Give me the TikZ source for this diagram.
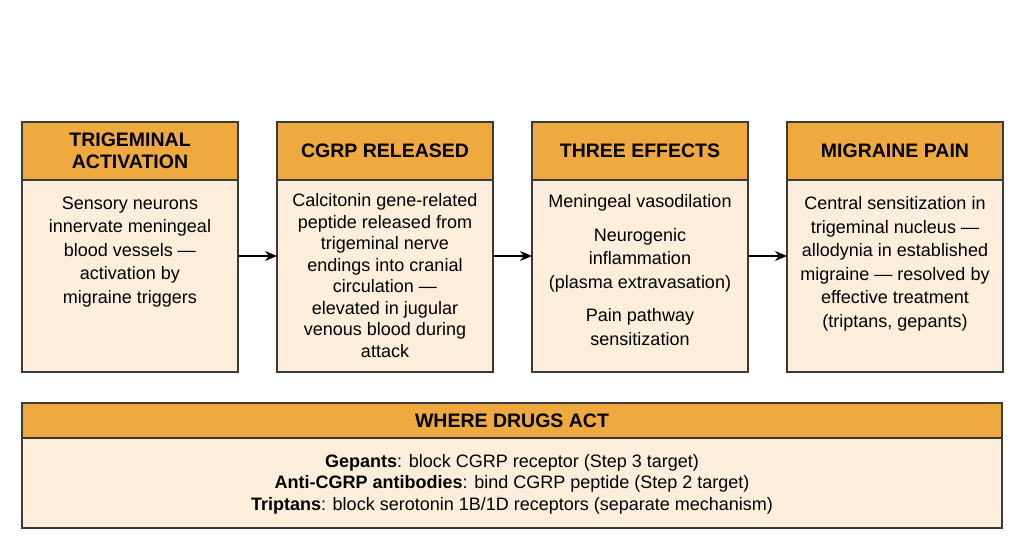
\documentclass[tikz,border=0pt]{standalone}
\usepackage{fontspec}
\setmainfont{Liberation Sans}
\usetikzlibrary{arrows.meta}
\definecolor{hdr}{HTML}{EEA93F}
\definecolor{bdy}{HTML}{FCEEDB}
\definecolor{brd}{HTML}{3A3A3A}
\begin{document}
\begin{tikzpicture}[x=1pt,y=-1pt,
  hd/.style={draw=brd,line width=1.2pt,fill=hdr},
  bd/.style={draw=brd,line width=1.2pt,fill=bdy},
  ht/.style={font=\fontsize{19.5}{22}\selectfont\bfseries,align=center},
  bt/.style={font=\fontsize{18}{23.5}\selectfont,align=center},
  arr/.style={-{Stealth[length=12pt,width=10pt]},line width=1.2pt,black}]
\useasboundingbox (0,0) rectangle (1024,559);
\foreach \x/\n in {22/a,277/b,532/c,787/d}{
  \draw[bd] (\x,180) rectangle (\x+216,372);
  \draw[hd] (\x,122) rectangle (\x+216,180);
  \coordinate (\n l) at (\x,256);
  \coordinate (\n r) at (\x+216,256);
}
\node[ht] (h1) at (130,151) {TRIGEMINAL\\ACTIVATION};
\node[ht] (h2) at (385,151) {CGRP RELEASED};
\node[ht] (h3) at (640,151) {THREE EFFECTS};
\node[ht] (h4) at (895,151) {MIGRAINE PAIN};
\node[bt,anchor=north] (t1) at (130,193) {Sensory neurons\\innervate meningeal\\blood vessels —\\activation by\\migraine triggers};
\node[bt,anchor=north,font=\fontsize{18}{21.5}\selectfont] (t2) at (385,190) {Calcitonin gene-related\\peptide released from\\trigeminal nerve\\endings into cranial\\circulation —\\elevated in jugular\\venous blood during\\attack};
\node[bt,anchor=north] (t3) at (640,191) {Meningeal vasodilation\\[10pt]Neurogenic\\inflammation\\(plasma extravasation)\\[10pt]Pain pathway\\sensitization};
\node[bt,anchor=north] (t4) at (895,193) {Central sensitization in\\trigeminal nucleus —\\allodynia in established\\migraine — resolved by\\effective treatment\\(triptans, gepants)};
\draw[arr] (ar) -- (bl);
\draw[arr] (br) -- (cl);
\draw[arr] (cr) -- (dl);
\draw[bd] (22,438) rectangle (1002,528);
\draw[hd] (22,403) rectangle (1002,438);
\node[ht] (h5) at (512,421) {WHERE DRUGS ACT};
\node[font=\fontsize{18}{21.5}\selectfont,align=center] (t5) at (512,484) {\textbf{Gepants}: block CGRP receptor (Step 3 target)\\\textbf{Anti-CGRP antibodies}: bind CGRP peptide (Step 2 target)\\\textbf{Triptans}: block serotonin 1B/1D receptors (separate mechanism)};
\end{tikzpicture}
\end{document}
